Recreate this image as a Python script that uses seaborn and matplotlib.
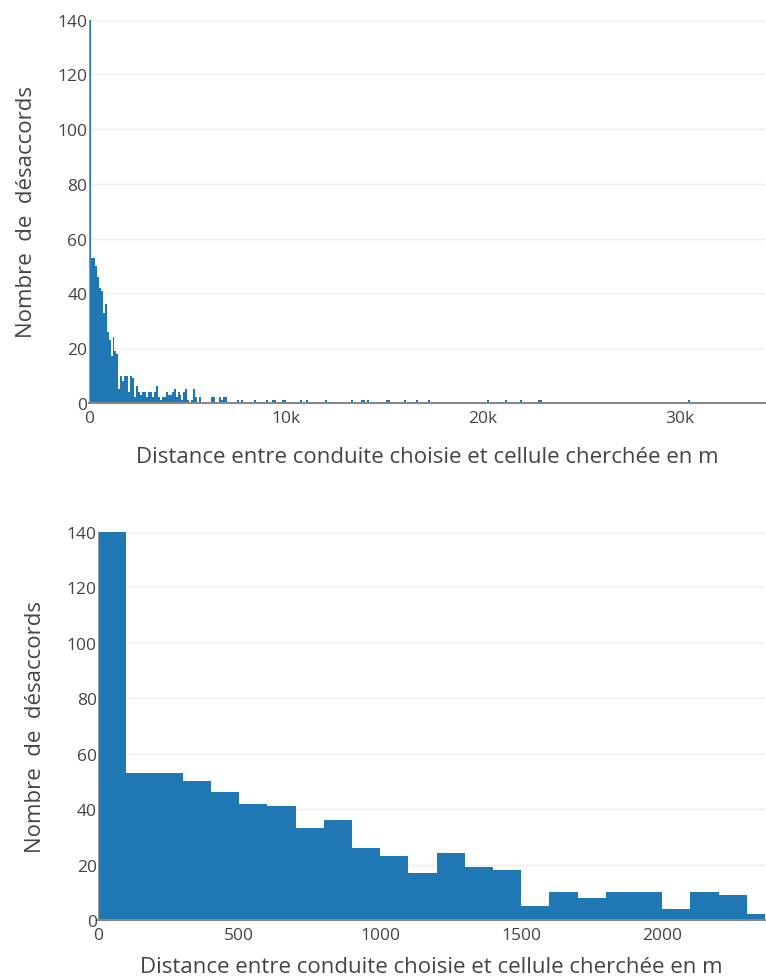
import numpy as np
import pandas as pd
import seaborn as sns
import matplotlib
matplotlib.use("Agg")
import matplotlib.pyplot as plt
from matplotlib.ticker import FuncFormatter

# counts of disagreements per 100 m bin, from 0 m up to 5700 m
near_counts = [140, 53, 53, 50, 46, 42, 41, 33, 36, 26,
               23, 17, 24, 19, 18, 5, 10, 8, 10, 10,
               4, 10, 9, 2, 6, 4, 3, 4, 4, 2,
               4, 4, 2, 4, 6, 2, 1, 2, 2, 4,
               3, 3, 4, 5, 2, 4, 3, 1, 4, 5,
               1, 0, 1, 5, 2, 0, 2]

# sparse tail: start of the 100 m bin (m) and its count
far_dist = [6200, 6300, 6600, 6700, 6800, 6900, 7500, 7700, 8400, 9000,
            9300, 9400, 9800, 9900, 10700, 11000, 12000, 13300, 13800, 13900,
            14100, 15100, 15200, 16000, 16600, 17200, 20200, 21100, 21900, 22800,
            22900, 30400]
far_count = [2, 2, 2, 1, 2, 2, 1, 1, 1, 1,
             1, 1, 1, 1, 1, 1, 1, 1, 1, 1,
             1, 1, 1, 1, 1, 1, 1, 1, 1, 1,
             1, 1]

y_ticks = [0, 20, 40, 60, 80, 100, 120, 140]
top_xticks = [0, 10000, 20000, 30000]
bottom_xticks = [0, 500, 1000, 1500, 2000]
xlabel = "Distance entre conduite choisie et cellule cherchée en m"
ylabel = "Nombre  de  désaccords"

df = pd.DataFrame({
    "distance": list(np.arange(len(near_counts)) * 100 + 50) + [d + 50 for d in far_dist],
    "count": near_counts + far_count,
})

sns.set_style("white")
plt.rcParams["font.family"] = ["Open Sans", "DejaVu Sans"]
grey = "#444444"

fig = plt.figure(figsize=(7.66, 9.78), dpi=100)
ax1 = fig.add_axes([0.116, 0.587, 0.8825, 0.392])
ax2 = fig.add_axes([0.128, 0.0583, 0.871, 0.397])

setup = [(ax1, 34300, top_xticks, -0.092, -0.14), (ax2, 2365, bottom_xticks, -0.094, -0.12)]
for ax, xmax, xt, ylx, xly in setup:
    sns.histplot(data=df, x="distance", weights="count", binwidth=100, binrange=(0, 34300),
                 color="#1f77b4", alpha=1, edgecolor="none", linewidth=0, ax=ax)
    ax.set_xlim(0, xmax)
    ax.set_ylim(0, 140)
    ax.set_yticks(y_ticks)
    ax.set_xticks(xt)
    ax.grid(axis="y", color="#eeeeee", lw=1)
    ax.grid(axis="x", visible=False)
    ax.set_axisbelow(True)
    for s in ["top", "right"]:
        ax.spines[s].set_visible(False)
    ax.spines["bottom"].set_color("#888888")
    ax.spines["bottom"].set_linewidth(1.5)
    ax.spines["left"].set_color("#999999")
    ax.spines["left"].set_linewidth(0.8)
    ax.tick_params(axis="y", length=0, labelsize=12.5, labelcolor=grey, pad=1)
    ax.tick_params(axis="x", length=0, labelsize=12.5, labelcolor=grey, pad=5)
    ax.set_xlabel(xlabel, fontsize=16, color=grey, va="center")
    ax.set_ylabel(ylabel, fontsize=16, color=grey, va="center")
    ax.xaxis.set_label_coords(0.5, xly)
    ax.yaxis.set_label_coords(ylx, 0.5)

ax1.xaxis.set_major_formatter(FuncFormatter(lambda v, p: "0" if v == 0 else f"{int(v / 1000)}k"))

plt.savefig("out.png", dpi=100)
